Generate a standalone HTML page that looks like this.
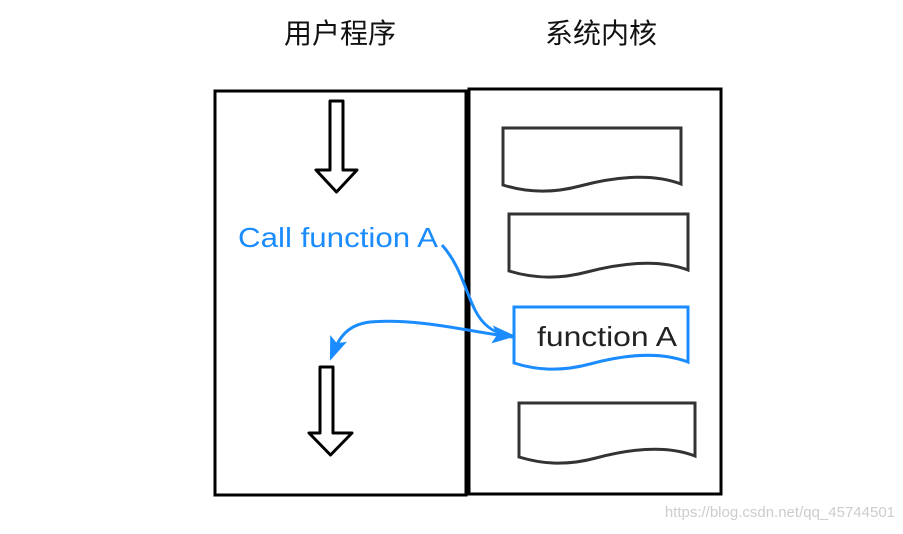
<!DOCTYPE html>
<html><head><meta charset="utf-8"><style>
body{margin:0;background:#fff;width:903px;height:529px;overflow:hidden}
</style></head><body>
<svg width="903" height="529" viewBox="0 0 903 529" xmlns="http://www.w3.org/2000/svg">
<defs>
<marker id="ah2" markerWidth="24" markerHeight="18" refX="21" refY="9" orient="auto" markerUnits="userSpaceOnUse" viewBox="0 0 24 18"><path d="M0,0 L24,9 L0,18 L5,9 Z" fill="#1a8cff"/></marker>
</defs>
<text x="340" y="43" font-family="Liberation Sans, Noto Sans CJK SC, sans-serif" font-size="28" text-anchor="middle" fill="#111">用户程序</text>
<text x="601" y="43" font-family="Liberation Sans, Noto Sans CJK SC, sans-serif" font-size="28" text-anchor="middle" fill="#111">系统内核</text>
<rect x="215" y="91" width="251" height="404" fill="none" stroke="#000" stroke-width="3"/>
<rect x="469" y="89" width="252" height="405" fill="none" stroke="#000" stroke-width="3"/>
<path d="M330,101 H343 V170 H357 L336.5,192 L316,170 H330 Z" fill="#fff" stroke="#000" stroke-width="3" stroke-linejoin="round"/>
<path d="M320,367 H333 V433 H352 L330.5,455 L309,433 H320 Z" fill="#fff" stroke="#000" stroke-width="3" stroke-linejoin="round"/>
<path d="M503,128 H681 V184 C650,172 610,178 580,186 C550,194 525,192 503,185 Z" fill="none" stroke="#333" stroke-width="3"/>
<path d="M509,214 H688 V270 C657,258 617,264 587,272 C557,280 532,278 509,271 Z" fill="none" stroke="#333" stroke-width="3"/>
<path d="M519,403 H695 V456 C664,444 626,450 596,458 C566,466 542,464 519,457 Z" fill="none" stroke="#333" stroke-width="3"/>
<path d="M514,307 H688 V362 C657,350 620,356 590,364 C560,372 536,370 514,363 Z" fill="#fff" stroke="#1a8cff" stroke-width="3"/>
<text x="537" y="346" font-family="Liberation Sans, sans-serif" font-size="28" textLength="140" lengthAdjust="spacingAndGlyphs" fill="#222">function A</text>
<text x="238" y="247" font-family="Liberation Sans, sans-serif" font-size="28" textLength="200" lengthAdjust="spacingAndGlyphs" fill="#1a8cff">Call function A</text>
<path d="M442,245 C460,265 465,290 475,310 C485,330 500,335 513,336" fill="none" stroke="#1a8cff" stroke-width="3" marker-end="url(#ah2)"/>
<path d="M513,337 C470,332 420,318 370,322 C345,325 338,340 331,358" fill="none" stroke="#1a8cff" stroke-width="3" marker-end="url(#ah2)"/>
<text x="895" y="517" font-family="Liberation Sans, sans-serif" font-size="15" text-anchor="end" fill="#ccc">https://blog.csdn.net/qq_45744501</text>
</svg>
</body></html>
